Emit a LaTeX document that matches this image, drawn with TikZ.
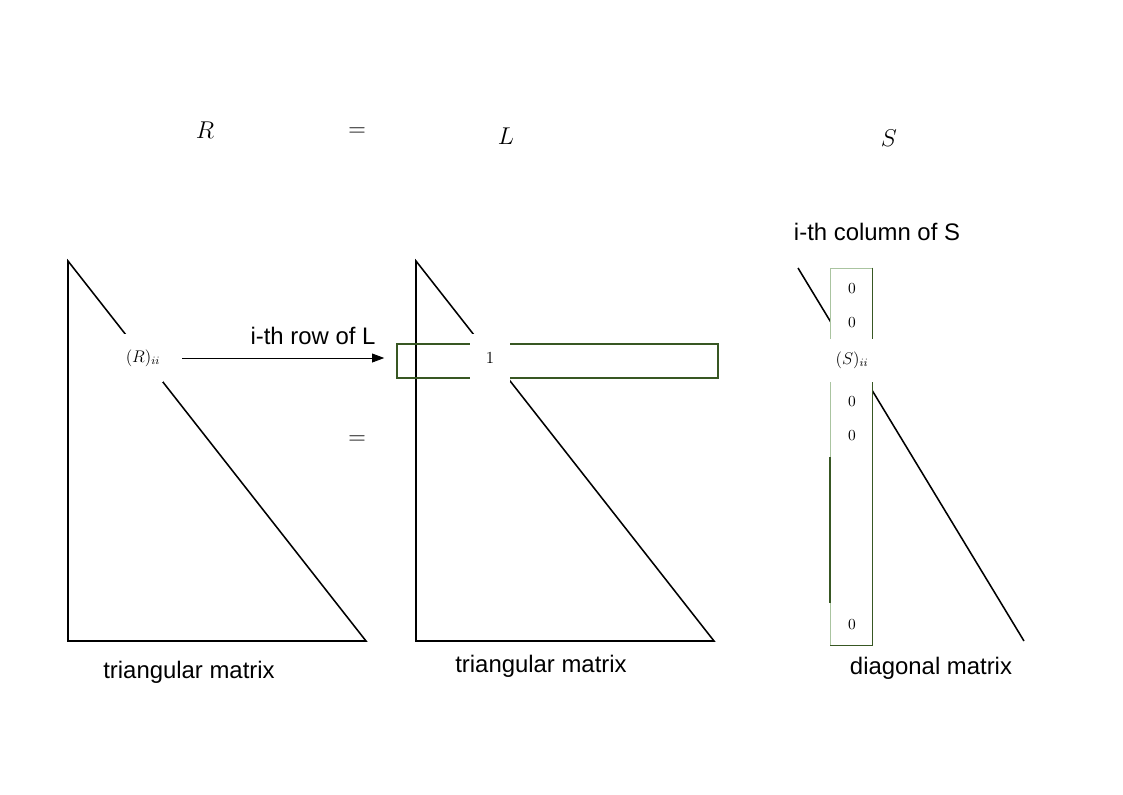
\documentclass[tikz,border=0pt]{standalone}
\usepackage{amsmath,amssymb}
\usepackage{fontspec}
\setmainfont{Liberation Sans}
\usepackage{tikz}
\usetikzlibrary{arrows.meta,calc,positioning}
\definecolor{rowgreen}{RGB}{56,87,35}
\definecolor{palegreen}{RGB}{170,196,160}
\tikzset{
  tri/.style    = {line width=1.1pt, line join=miter},
  rowbox/.style = {draw=rowgreen, line width=1.1pt},
  blank/.style  = {fill=white, inner sep=0pt, minimum width=10mm, minimum height=12mm,
                   font=\fontsize{11.5}{14}\selectfont},
  entry/.style  = {inner sep=0pt, font=\fontsize{11}{13}\selectfont},
  title/.style  = {font=\fontsize{19}{22}\selectfont},
  lbl/.style    = {font=\fontsize{17}{20}\selectfont, inner sep=0pt},
  arr/.style    = {-{Triangle[length=3mm,width=2.2mm]}, line width=0.6pt},
}

\begin{document}
\begin{tikzpicture}[x=0.25mm,y=-0.25mm]
  \useasboundingbox (0,0) rectangle (1123,794);
  % top line of the equation
  \node[title] (tR) at (205,130) {$R$};
  \node[title] (teq) at (357,132) {$=$};
  \node[title] (tL) at (506,136) {$L$};
  \node[title] (tS) at (889,138) {$S$};
  % triangular matrix R
  \draw[tri] (68,261) -- (68,641) -- (366,641) -- cycle;
  % triangular matrix L and its i-th row
  \draw[tri] (416,261) -- (416,641) -- (714,641) -- cycle;
  \node[rowbox, minimum width=80.25mm, minimum height=8.5mm, inner sep=0pt] (rowL) at (557.5,361) {};
  % diagonal matrix S and its i-th column
  \draw[tri] (798,268) -- (1024,641);
  \node[draw=palegreen, line width=0.6pt, fill=white, minimum width=10.5mm, minimum height=94.25mm,
        inner sep=0pt] (colS) at (851,456.5) {};
  \draw[rowbox] (colS.north east) -- (colS.south east) -- (colS.south west);
  \draw[rowbox] (830,457) -- (830,603);
  % the diagonal entries
  \node[blank] (rii) at (143,358) {$(R)_{ii}$};
  \node[blank] (one) at (490,358) {$1$};
  \node[blank, minimum width=14mm, minimum height=10.75mm] (sii) at (852,360) {$(S)_{ii}$};
  \foreach \y/\n in {289/a,323/b,402/c,436/d,625/e}
    \node[entry] (z\n) at (852,\y) {$0$};
  \draw[arr, shorten <=4.75mm, shorten >=3mm] (rii.east) -- (rii.east -| rowL.west);
  \node[lbl] (rowlbl) at (313,336) {i-th row of L};
  \node[title] (meq) at (357,440) {$=$};
  \node[lbl] (collbl) at (877,232) {i-th column of S};
  % names of the matrices
  \node[lbl] (nR) at (189,672) {triangular matrix};
  \node[lbl] (nL) at (541,666) {triangular matrix};
  \node[lbl] (nS) at (931,668) {diagonal matrix};
\end{tikzpicture}
\end{document}
